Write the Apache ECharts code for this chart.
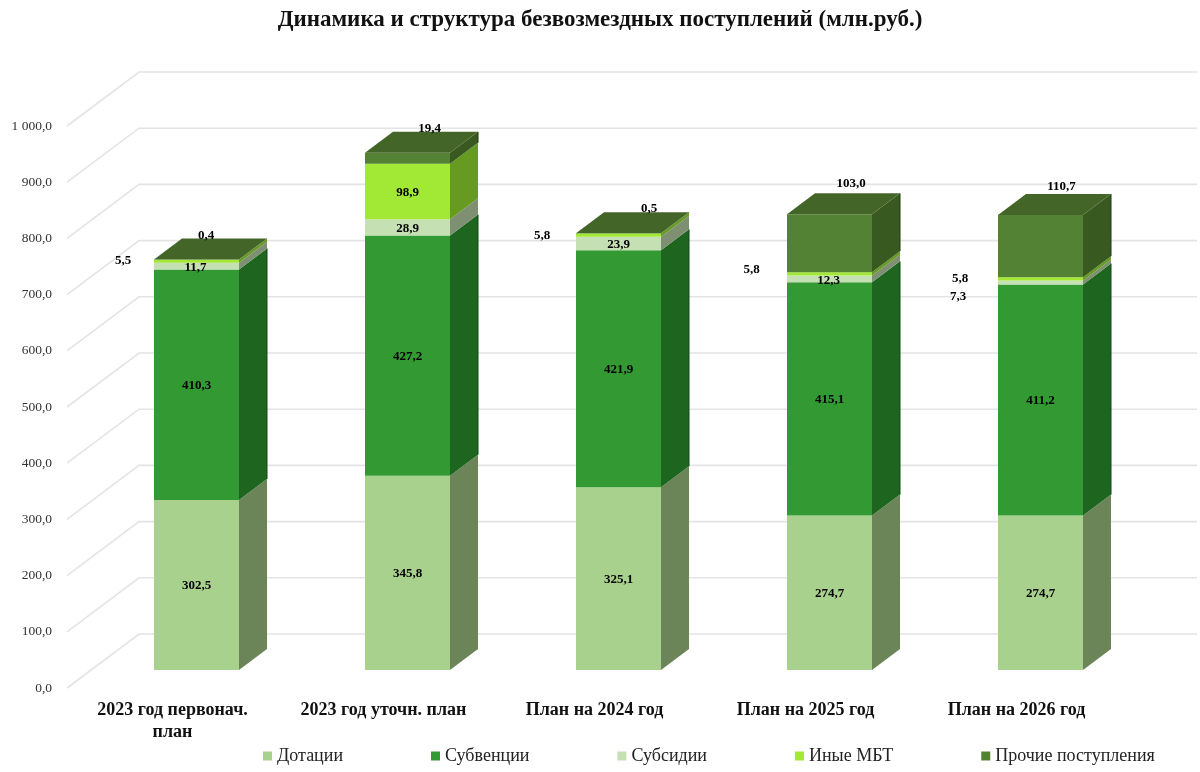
<!DOCTYPE html>
<html>
<head>
<meta charset="utf-8">
<style>html,body{margin:0;padding:0;background:#fff}#c{width:1200px;height:772px}</style>
<script src="https://cdn.jsdelivr.net/npm/echarts@6/dist/echarts.min.js"></script>
</head>
<body>
<div id="c"></div>
<script>
const categories = ['2023 год первонач.\nплан', '2023 год уточн. план', 'План на 2024 год', 'План на 2025 год', 'План на 2026 год'];
const seriesNames = ['Дотации', 'Субвенции', 'Субсидии', 'Иные МБТ', 'Прочие поступления'];
const dotations = [302.5, 345.8, 325.1, 274.7, 274.7];
const subventions = [410.3, 427.2, 421.9, 415.1, 411.2];
const subsidies = [11.7, 28.9, 23.9, 12.3, 7.3];
const otherMbt = [5.5, 98.9, 5.8, 5.8, 5.8];
const otherIncome = [0.4, 19.4, 0.5, 103.0, 110.7];
const tickValues = [0, 100, 200, 300, 400, 500, 600, 700, 800, 900, 1000];

const allValues = [dotations, subventions, subsidies, otherMbt, otherIncome];
const frontColors = ['#A9D18E', '#339933', '#C5E0B3', '#A1E934', '#548235'];
const sideColors = ['#6B8559', '#1E6620', '#7E8F72', '#669A21', '#385A20'];
const edgeColors = [null, '#0F4A12', null, null, '#22380F'];
const topColor = '#446528';
const gridColor = '#E4E4E4';
const serif = '"Liberation Serif", serif';

// Perspective of the plot, measured from the floor-front corner of the chart box
const wallDepth = [72, -54];
const barPlane = [24, -18];
const barDepth = [28, -21];
const barWidth = 85;

// Label nudges relative to the centre of the segment's front face
const labelNudges = [
  [[0, 1], [0, 1], [0, 1], [0, 1], [0, 1]],
  [[0, 1], [0, 1], [0, 1], [0, 1], [0, 1]],
  [[-1, 2], [0, 1], [0, 1], [-1, 2], [-82.5, 14.5]],
  [[-73.5, -1], [0, 1], [-76.5, 1], [-78, -4], [-80.5, 0]],
  [[9.5, -24], [22, -30], [30.5, -25], [21.5, -60], [21, -59]]
];

const fmt = v => v.toFixed(1).replace('.', ',');
const fmtTick = v => {
  const s = v.toFixed(1).replace('.', ',');
  return v >= 1000 ? s.replace(/^(\d)(\d{3})/, '$1 $2') : s;
};

const wallSeries = {
  type: 'custom',
  silent: true,
  z: 1,
  clip: false,
  coordinateSystem: 'cartesian2d',
  data: tickValues.map(v => [0, v]),
  renderItem(params, api) {
    const y = api.coord([0, api.value(1)])[1];
    const cs = params.coordSys;
    return {
      type: 'polyline',
      shape: { points: [[cs.x, y], [cs.x + wallDepth[0], y + wallDepth[1]], [cs.x + cs.width + 75, y + wallDepth[1]]] },
      style: { stroke: gridColor, fill: null, lineWidth: 1.6 }
    };
  }
};

function segmentSeries(si) {
  const isTop = si === allValues.length - 1;
  const data = categories.map((c, i) => {
    let base = 0;
    for (let k = 0; k < si; k++) base += allValues[k][i];
    return [i, base, base + allValues[si][i], allValues[si][i]];
  });
  return {
    name: seriesNames[si],
    type: 'custom',
    coordinateSystem: 'cartesian2d',
    clip: false,
    z: 2 + si,
    itemStyle: { color: frontColors[si] },
    encode: { x: 0, y: [1, 2] },
    data,
    renderItem(params, api) {
      const i = api.value(0);
      const p0 = api.coord([i, api.value(1)]);
      const p1 = api.coord([i, api.value(2)]);
      const l = p0[0] + barPlane[0] - barWidth / 2;
      const r = l + barWidth;
      const b = p0[1] + barPlane[1];
      const t = p1[1] + barPlane[1];
      const dx = barDepth[0], dy = barDepth[1];
      const children = [
        { type: 'polygon', shape: { points: [[l, b], [r, b], [r, t], [l, t]] }, style: { fill: frontColors[si] } },
        { type: 'polygon', shape: { points: [[r, b], [r + dx, b + dy], [r + dx, t + dy], [r, t]] }, style: { fill: sideColors[si] } }
      ];
      if (edgeColors[si]) {
        children.push({ type: 'line', shape: { x1: r + dx, y1: b + dy, x2: r + dx, y2: t + dy }, style: { stroke: edgeColors[si], lineWidth: 1 } });
      }
      if (isTop) {
        children.push({ type: 'polygon', shape: { points: [[l, t], [r, t], [r + dx, t + dy], [l + dx, t + dy]] }, style: { fill: topColor } });
      }
      const n = labelNudges[si][i];
      children.push({
        type: 'text',
        z2: 100,
        style: {
          x: (l + r) / 2 + n[0],
          y: (b + t) / 2 + n[1],
          text: fmt(api.value(3)),
          align: 'center',
          verticalAlign: 'middle',
          font: 'bold 13px ' + serif,
          fill: '#000'
        }
      });
      return { type: 'group', children };
    }
  };
}

const chart = echarts.init(document.getElementById('c'), null, { renderer: 'canvas' });
chart.setOption({
  animation: false,
  backgroundColor: '#fff',
  title: {
    text: 'Динамика и структура безвозмездных поступлений (млн.руб.)',
    left: 600,
    textAlign: 'center',
    top: 4,
    textStyle: { fontFamily: serif, fontSize: 23, fontWeight: 'bold', color: '#111' }
  },
  legend: {
    data: seriesNames,
    left: 258,
    top: 742,
    icon: 'rect',
    itemWidth: 9,
    itemHeight: 9,
    itemGap: 88,
    textStyle: { fontFamily: serif, fontSize: 18, color: '#222' }
  },
  grid: { left: 67, top: 126, width: 1055, height: 562 },
  xAxis: {
    type: 'category',
    data: categories,
    axisLine: { show: false },
    axisTick: { show: false },
    axisLabel: {
      margin: 11,
      interval: 0,
      lineHeight: 22,
      fontFamily: serif,
      fontSize: 18,
      fontWeight: 'bold',
      color: '#111'
    }
  },
  yAxis: {
    type: 'value',
    min: 0,
    max: 1000,
    interval: 100,
    axisLine: { show: false },
    axisTick: { show: false },
    splitLine: { show: false },
    axisLabel: {
      margin: 15,
      formatter: fmtTick,
      fontFamily: serif,
      fontSize: 13.5,
      color: '#333'
    }
  },
  series: [wallSeries].concat(allValues.map((_, si) => segmentSeries(si)))
});
chart.setOption({ title: { left: 595 } });
</script>
</body>
</html>
